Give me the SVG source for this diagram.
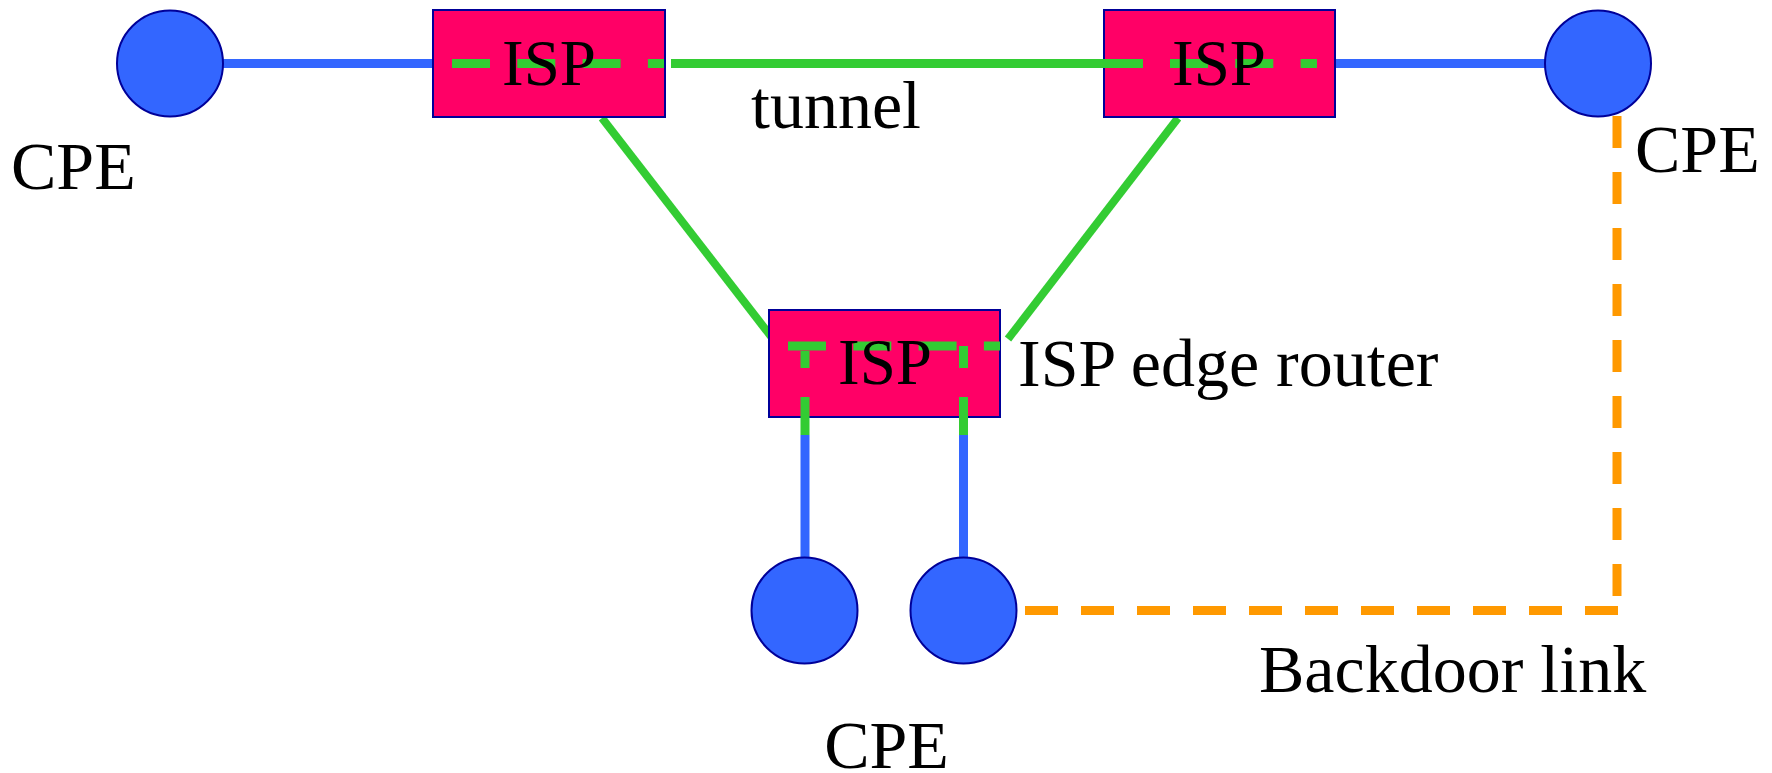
<svg xmlns="http://www.w3.org/2000/svg" width="1772" height="773" viewBox="0 0 1772 773">
<style>
.cpe{fill:#3366ff;stroke:#000099;stroke-width:2}
.isp{fill:#ff0066;stroke:#000099;stroke-width:2}
.blue{stroke:#3366ff;stroke-width:9;fill:none}
.green{stroke:#33cc33;stroke-width:8;fill:none}
.gdash{stroke:#33cc33;stroke-width:9;fill:none;stroke-dasharray:38 27.3}
.orange{stroke:#ff9900;stroke-width:9;fill:none}
text{font-family:"Liberation Serif","Times New Roman",serif;fill:#000}
.lbl{font-size:68px}
.isptxt{font-size:65px;text-anchor:middle}
</style>
<rect width="1772" height="773" fill="#ffffff"/>
<g id="connectors">
<line class="blue" x1="222" y1="63.5" x2="433" y2="63.5"/>
<line class="blue" x1="1335" y1="63.5" x2="1546" y2="63.5"/>
<line class="blue" x1="805" y1="435" x2="805" y2="557"/>
<line class="blue" x1="963.5" y1="435" x2="963.5" y2="557"/>
<line class="green" x1="602" y1="118" x2="773" y2="339"/>
<line class="green" x1="1178" y1="118" x2="1008" y2="339"/>
<path class="orange" d="M1025,610.5 H1621" style="stroke-dasharray:33 23"/>
<path class="orange" d="M1617,116 V597" style="stroke-dasharray:32 24"/>
</g>
<g id="cpe-left"><circle class="cpe" cx="170" cy="63.5" r="53"/></g>
<g id="cpe-right"><circle class="cpe" cx="1598" cy="63.5" r="53"/></g>
<g id="cpe-bottom-left"><circle class="cpe" cx="804.5" cy="610.5" r="53"/></g>
<g id="cpe-bottom-right"><circle class="cpe" cx="963.5" cy="610.5" r="53"/></g>
<g id="isp-left"><rect class="isp" x="433" y="10" width="232" height="107"/></g>
<g id="isp-right"><rect class="isp" x="1104" y="10" width="231" height="107"/></g>
<g id="isp-edge"><rect class="isp" x="769" y="310" width="231" height="107"/></g>
<g id="tunnels">
<path class="gdash" d="M452,63.5 H664"/>
<line class="green" x1="671" y1="63.5" x2="1143" y2="63.5" style="stroke-width:9"/>
<path class="gdash" d="M1170,63.5 H1317"/>
<path class="gdash" d="M788,346 H1000"/>
<path class="gdash" d="M805,435 V351" style="stroke-dasharray:38 29"/>
<path class="gdash" d="M963.5,435 V346" style="stroke-dasharray:38 29"/>
</g>
<g id="labels">
<text class="isptxt" x="549" y="85">ISP</text>
<text class="isptxt" x="1219" y="85">ISP</text>
<text class="isptxt" x="885" y="384">ISP</text>
<text class="lbl" x="11" y="189">CPE</text>
<text class="lbl" x="1635" y="172">CPE</text>
<text class="lbl" x="886.5" y="768" text-anchor="middle">CPE</text>
<text class="lbl" x="751" y="128">tunnel</text>
<text class="lbl" x="1018" y="386">ISP edge router</text>
<text class="lbl" x="1259" y="692">Backdoor link</text>
</g>
</svg>
